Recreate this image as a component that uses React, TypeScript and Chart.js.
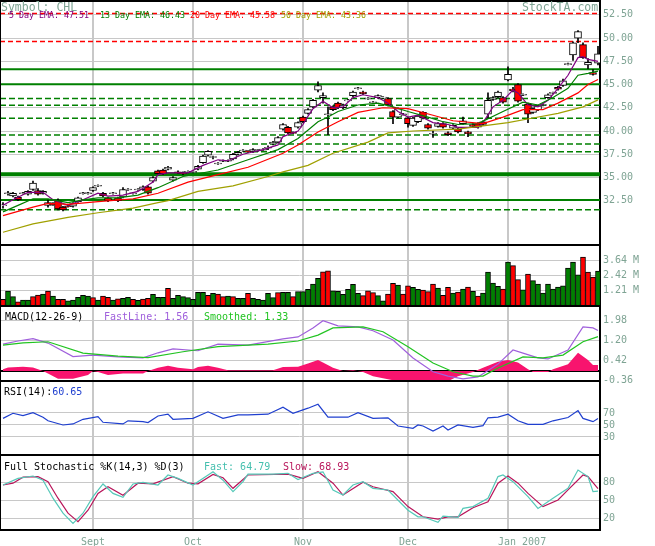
import React, { useEffect, useRef, useState } from 'react';
import { Chart, registerables } from 'chart.js';
Chart.register(...registerables);

const MONO = '"DejaVu Sans Mono", monospace';
const LABEL = '#7fa494';

// x = trading-day index (0 = 2006-08-08 ... 119 = 2007-01-30)
const X_MIN = -0.6;
const X_MAX = 119.4;
const monthTicks = [18, 38, 60, 81, 101];
const monthLabels = ['Sept', 'Oct', 'Nov', 'Dec', 'Jan 2007'];

const opens = [31.95, 33.25, 33.0, 32.9, 33.25, 33.2, 33.7, 33.6, 33.3, 32.0, 32.2, 32.5, 31.8, 31.95, 31.9, 32.4, 33.25, 33.25, 33.6, 34.05, 33.3, 32.8, 33.25, 32.8, 32.9, 33.65, 33.25, 33.65, 33.7, 34.0, 34.6, 35.7, 35.8, 35.9, 34.7, 35.6, 35.5, 35.55, 35.55, 35.9, 36.6, 37.4, 37.15, 36.45, 36.75, 36.75, 37.0, 37.5, 37.85, 37.85, 37.8, 37.85, 37.95, 38.15, 38.6, 38.8, 40.2, 40.4, 39.85, 40.4, 41.5, 41.9, 42.6, 44.4, 43.6, 41.75, 42.6, 43.0, 42.5, 43.25, 43.8, 44.55, 44.2, 43.45, 43.05, 43.6, 43.55, 43.5, 42.1, 41.5, 41.75, 41.4, 40.6, 41.0, 42.0, 40.7, 39.65, 40.5, 40.8, 39.8, 40.3, 40.2, 40.8, 39.9, 40.7, 40.8, 41.0, 41.8, 43.4, 43.7, 43.6, 45.5, 44.5, 45.0, 43.85, 42.9, 42.0, 42.3, 42.75, 43.6, 44.05, 44.7, 44.9, 47.15, 48.2, 50.0, 49.3, 47.1, 46.3, 47.3];
const highs = [32.3, 33.5, 33.4, 33.0, 33.4, 33.6, 34.6, 33.8, 33.6, 32.6, 32.3, 32.7, 31.9, 32.0, 32.3, 32.9, 33.4, 33.4, 34.0, 34.2, 33.4, 32.9, 33.4, 32.9, 33.9, 33.8, 33.4, 33.8, 34.1, 34.1, 35.1, 35.8, 35.9, 36.2, 35.1, 35.7, 35.6, 35.7, 35.7, 36.3, 37.4, 37.9, 37.3, 36.6, 36.9, 36.9, 37.6, 37.8, 38.0, 37.9, 38.1, 38.0, 38.1, 38.4, 38.9, 39.4, 40.8, 40.5, 39.9, 41.0, 41.6, 42.4, 43.4, 45.3, 44.1, 42.6, 42.7, 43.1, 42.9, 43.4, 44.3, 44.7, 44.3, 43.6, 43.2, 43.9, 43.7, 43.6, 42.2, 42.5, 41.9, 41.5, 41.5, 41.7, 42.1, 40.8, 40.0, 40.9, 40.9, 39.9, 40.7, 40.3, 41.5, 40.0, 40.8, 40.9, 41.1, 44.1, 43.7, 44.3, 43.7, 46.9, 44.7, 45.1, 44.0, 43.0, 42.5, 42.8, 42.9, 44.0, 44.2, 44.8, 45.6, 47.3, 49.6, 50.8, 49.5, 47.8, 46.6, 49.1];
const lows = [31.7, 33.1, 32.9, 32.5, 33.2, 33.1, 33.6, 33.1, 33.2, 31.8, 32.0, 31.5, 31.4, 31.8, 31.8, 32.3, 33.2, 33.2, 33.5, 34.0, 32.9, 32.4, 33.2, 32.4, 32.8, 33.6, 33.2, 33.6, 33.6, 33.2, 34.5, 35.3, 35.3, 35.8, 34.6, 35.4, 35.3, 35.5, 35.5, 35.8, 36.5, 37.3, 37.0, 36.4, 36.7, 36.7, 36.9, 37.4, 37.8, 37.7, 37.7, 37.8, 37.9, 38.0, 38.5, 38.7, 40.1, 39.7, 39.7, 40.3, 40.9, 41.8, 42.5, 44.2, 43.0, 39.6, 42.2, 42.4, 42.4, 43.2, 43.7, 44.5, 43.9, 43.4, 43.0, 43.5, 43.5, 42.7, 40.8, 41.4, 41.7, 40.4, 40.5, 40.9, 41.3, 40.2, 39.3, 40.4, 40.3, 39.5, 40.2, 39.8, 40.7, 39.4, 40.4, 40.3, 40.6, 41.4, 43.3, 43.6, 43.0, 45.4, 44.2, 43.1, 43.8, 40.9, 41.9, 42.2, 42.7, 43.5, 44.0, 44.4, 44.8, 47.1, 47.6, 49.5, 47.8, 46.7, 46.0, 47.1];
const closes = [32.05, 33.35, 33.3, 32.6, 33.35, 33.5, 34.4, 33.2, 33.5, 32.3, 32.05, 31.6, 31.5, 31.85, 32.2, 32.8, 33.35, 33.35, 33.9, 34.15, 33.0, 32.5, 33.35, 32.5, 33.7, 33.75, 33.35, 33.75, 34.0, 33.3, 35.0, 35.4, 35.4, 36.1, 35.0, 35.5, 35.4, 35.65, 35.65, 36.2, 37.3, 37.8, 37.25, 36.55, 36.85, 36.85, 37.5, 37.7, 37.95, 37.75, 38.0, 37.95, 38.05, 38.25, 38.8, 39.3, 40.7, 39.8, 39.75, 40.9, 41.0, 42.3, 43.3, 44.9, 43.8, 41.85, 42.3, 42.5, 42.8, 43.35, 44.2, 44.65, 44.0, 43.55, 43.15, 43.8, 43.65, 42.8, 41.5, 42.4, 41.85, 40.8, 41.4, 41.6, 41.4, 40.3, 39.75, 40.8, 40.4, 39.6, 40.6, 39.9, 41.1, 39.7, 40.5, 40.4, 40.7, 43.3, 43.6, 44.2, 43.1, 46.1, 44.35, 43.2, 43.95, 41.8, 42.4, 42.7, 42.85, 43.9, 44.15, 44.5, 45.4, 47.25, 49.5, 50.7, 47.9, 47.4, 46.1, 48.3];

// volume in millions, G = up day, R = down day
const volumes = [0.51, 1.18, 0.73, 0.32, 0.46, 0.46, 0.73, 0.86, 0.94, 1.18, 0.78, 0.51, 0.51, 0.40, 0.46, 0.67, 0.83, 0.78, 0.65, 0.46, 0.78, 0.67, 0.46, 0.56, 0.59, 0.67, 0.51, 0.43, 0.54, 0.59, 0.91, 0.67, 0.67, 1.40, 0.59, 0.83, 0.73, 0.65, 0.51, 1.08, 1.08, 0.83, 1.00, 0.94, 0.73, 0.78, 0.73, 0.59, 0.59, 1.00, 0.59, 0.51, 0.46, 1.00, 0.65, 1.05, 1.08, 1.08, 0.73, 1.13, 1.13, 1.32, 1.75, 2.21, 2.74, 2.82, 1.21, 1.16, 0.91, 1.32, 1.72, 1.00, 0.81, 1.21, 1.05, 0.81, 0.40, 0.94, 1.80, 1.67, 0.94, 1.61, 1.48, 1.32, 1.26, 1.13, 1.75, 1.43, 0.83, 1.48, 1.02, 1.10, 1.34, 1.51, 1.16, 0.78, 1.02, 2.72, 1.83, 1.56, 1.34, 3.52, 3.23, 2.10, 1.29, 2.55, 2.02, 1.75, 1.02, 1.75, 1.34, 1.51, 1.61, 3.04, 3.52, 2.50, 3.93, 2.72, 2.31, 2.80];
const volumeDirection = ('RGGRGGRRGR' + 'GRRGGGGGRG' + 'RRGRGGRGRR' + 'GGGRGGGGGG' + 'GRGRRGRGGR' + 'GGGGGRGGRG' + 'GGGGRRGGGG' + 'GGRRRGGRRG' + 'RRGGRRRGRR' + 'GRGRGRGGGG' + 'RGRRGRGGGG' + 'GGGGGGRRRG').split('');

const volumeTicks = [1.21, 2.42, 3.64];
const priceTicks = [32.5, 35, 37.5, 40, 42.5, 45, 47.5, 50, 52.5];
const macdTicks = [-0.36, 0, 0.42, 1.2, 1.98];
const rsiTicks = [30, 50, 70];
const stochTicks = [20, 50, 80];

const redDashedLevels = [52.64, 49.62];
const greenSolidLevels = [46.65, 45.04, 32.57];
const greenThickLevels = [35.34];
const greenDashedLevels = [43.49, 42.77, 41.37, 39.58, 38.61, 37.78, 31.53];

const ema5 = [[0, 32.0], [2, 32.6], [5, 33.4], [8, 33.4], [10, 32.6], [13, 32.0], [16, 32.6], [19, 33.3], [21, 33.0], [24, 33.1], [27, 33.5], [30, 34.5], [31, 35.3], [33, 35.5], [37, 35.5], [40, 36.3], [43, 36.9], [45, 36.8], [48, 37.5], [52, 38.0], [55, 38.5], [56, 39.4], [59, 40.0], [60, 40.7], [61, 41.6], [62, 42.4], [64, 43.2], [66, 42.5], [68, 42.6], [70, 43.6], [72, 43.9], [75, 43.6], [77, 43.0], [79, 42.1], [81, 41.5], [83, 41.7], [86, 40.9], [89, 40.7], [91, 40.4], [95, 40.4], [96, 40.9], [98, 42.6], [100, 43.3], [102, 44.4], [103, 44.1], [105, 42.8], [107, 42.6], [109, 43.3], [111, 44.6], [113, 46.0], [115, 47.9], [116, 48.0], [117, 47.7], [119, 47.5]];
const ema13 = [[0, 31.3], [3, 32.0], [6, 32.7], [9, 32.7], [13, 32.3], [16, 32.6], [19, 32.8], [23, 32.8], [27, 33.1], [31, 33.9], [36, 35.1], [43, 35.8], [49, 36.9], [55, 38.0], [59, 39.2], [63, 41.0], [65, 41.5], [67, 42.1], [71, 42.8], [75, 43.0], [78, 42.6], [81, 42.1], [85, 41.5], [88, 41.0], [91, 40.7], [95, 40.8], [100, 42.1], [104, 43.1], [107, 42.8], [110, 43.6], [113, 44.6], [115, 46.0], [117, 46.2], [119, 46.45]];
const ema20 = [[0, 30.9], [6, 31.8], [9, 32.2], [13, 32.1], [19, 32.4], [26, 32.7], [31, 33.3], [37, 34.5], [43, 35.3], [49, 36.1], [56, 37.6], [59, 38.5], [63, 39.9], [67, 41.0], [71, 42.0], [76, 42.5], [81, 42.4], [86, 41.7], [90, 41.1], [96, 40.8], [100, 41.5], [104, 42.3], [108, 42.3], [111, 43.0], [115, 44.1], [117, 45.0], [119, 45.55]];
const ema50 = [[0, 29.1], [6, 30.0], [13, 30.7], [19, 31.2], [26, 31.7], [31, 32.3], [33, 32.5], [39, 33.5], [46, 34.1], [53, 35.1], [56, 35.6], [61, 36.3], [66, 37.6], [73, 38.8], [77, 39.8], [82, 40.0], [91, 40.2], [101, 40.9], [106, 41.4], [111, 41.9], [116, 42.6], [119, 43.35]];

const macdFast = [[0, 1.05], [3, 1.17], [6, 1.26], [9, 1.09], [14, 0.56], [18, 0.62], [23, 0.55], [28, 0.51], [31, 0.71], [34, 0.86], [39, 0.79], [43, 1.05], [49, 1.01], [56, 1.25], [59, 1.33], [62, 1.68], [64, 1.96], [67, 1.76], [71, 1.72], [74, 1.57], [78, 1.21], [82, 0.51], [86, -0.03], [89, -0.2], [92, -0.31], [95, -0.23], [99, 0.27], [102, 0.82], [104, 0.7], [107, 0.51], [109, 0.47], [113, 0.82], [116, 1.72], [118, 1.68], [119, 1.58]];
const macdSmoothed = [[0, 1.01], [4, 1.1], [9, 1.14], [16, 0.7], [23, 0.58], [29, 0.52], [36, 0.75], [43, 0.95], [53, 1.05], [59, 1.17], [63, 1.4], [66, 1.68], [72, 1.72], [76, 1.53], [81, 0.95], [86, 0.31], [90, -0.03], [94, -0.2], [96, -0.2], [99, 0.12], [104, 0.55], [108, 0.51], [112, 0.62], [116, 1.14], [119, 1.34]];
const macdHist = [[0, 0.07], [1, 0.14], [4, 0.17], [6, 0.14], [8, 0], [9, -0.1], [11, -0.3], [14, -0.3], [17, -0.16], [18, 0], [19, -0.04], [21, -0.16], [24, -0.1], [28, -0.1], [29, 0], [31, 0.13], [33, 0.2], [35, 0.13], [38, 0.07], [39, 0.16], [41, 0.2], [43, 0.13], [45, 0.03], [54, 0.03], [56, 0.16], [59, 0.17], [61, 0.29], [63, 0.43], [64, 0.33], [66, 0.13], [68, 0], [70, 0.03], [72, -0.04], [74, -0.2], [78, -0.36], [81, -0.47], [86, -0.47], [89, -0.4], [91, -0.2], [94, -0.04], [96, 0.13], [99, 0.36], [101, 0.43], [103, 0.33], [105, 0.07], [106, -0.04], [109, -0.04], [110, 0.07], [113, 0.26], [115, 0.71], [117, 0.43], [118, 0.23], [119, 0.23]];

const rsi = [[0, 61], [2, 69.5], [4, 65.5], [6, 70.5], [8, 63], [9, 57], [12, 50], [14, 51.7], [16, 59.5], [19, 64], [20, 54.5], [24, 51.7], [25, 57], [28, 55.5], [29, 54], [31, 65], [33, 68], [34, 59.5], [38, 61], [41, 72], [44, 61], [47, 66.7], [49, 66.7], [53, 68], [56, 79.5], [58, 69.5], [61, 78], [63, 84.5], [65, 63], [69, 63], [71, 70.5], [74, 61], [77, 62], [79, 48.3], [82, 44.5], [83, 50], [84, 48.3], [86, 40], [88, 48.3], [89, 41.7], [91, 50], [94, 46], [96, 49], [97, 62], [99, 63], [101, 68], [103, 57], [105, 51], [108, 51], [110, 57], [113, 62.5], [115, 74], [116, 61], [118, 55.5], [119, 60.65]];

const stochFast = [[0, 75], [3, 86], [6, 90], [8, 83], [10, 53], [12, 28], [14, 11], [16, 28], [18, 55.5], [20, 76.7], [22, 61], [24, 54.5], [26, 76.7], [28, 79.5], [31, 75], [33, 91.7], [35, 86], [38, 75], [42, 97], [44, 83], [46, 64], [48, 80.5], [49, 93], [54, 93], [57, 94.5], [59, 84], [62, 94.5], [64, 97], [66, 66.7], [68, 58.3], [70, 75], [72, 80.5], [74, 69.5], [77, 66.7], [81, 33], [83, 22], [84, 22], [87, 12.8], [88, 23], [91, 21], [92, 36], [94, 39], [97, 53], [99, 89], [100, 91.7], [102, 80.5], [105, 55.5], [107, 36], [110, 53], [113, 69.5], [115, 100], [117, 89], [118, 64], [119, 64.79]];
const stochSlow = [[0, 75], [2, 78], [4, 88], [7, 89], [9, 80.5], [11, 53], [13, 28], [15, 14], [17, 33], [19, 61], [21, 72], [24, 58], [27, 78], [30, 77], [34, 89], [37, 78], [39, 77], [42, 92.7], [44, 87], [46, 69.5], [49, 91.7], [57, 93], [60, 86], [63, 97], [66, 78], [68, 58.3], [72, 79.5], [74, 72], [78, 64], [81, 39], [84, 22], [87, 18], [89, 22], [91, 22], [94, 37], [97, 47], [99, 78], [101, 90], [103, 78], [105, 61], [108, 39], [111, 50], [113, 67], [116, 91.7], [117, 89], [119, 68.93]];

const legendValues = { ema5: '47.51', ema13: '46.43', ema20: '45.58', ema50: '43.36', fast: '1.56', smoothed: '1.33', rsi: '60.65', stochFast: '64.79', stochSlow: '68.93' };

const pts = (arr: number[][]) => arr.map(([x, y]) => ({ x, y }));
const levelLine = (v: number, color: string, width: number, dash: number[]) => ({
  type: 'line', yAxisID: 'y', data: [{ x: X_MIN, y: v }, { x: X_MAX, y: v }],
  borderColor: color, borderWidth: width, borderDash: dash, pointRadius: 0, order: 10, fill: false,
});
const seriesLine = (arr: number[][], axis: string, color: string, width = 1.2, order = 2) => ({
  type: 'line', yAxisID: axis, data: pts(arr), borderColor: color, borderWidth: width,
  pointRadius: 0, tension: 0, fill: false, order,
});

const gridColor = '#c8c8c8';
const yAxis = (weight: number, order: number, min: number, max: number, ticks: number[], fmt: (v: number) => string) => ({
  type: 'linear', position: 'right', stack: 'panels', stackWeight: weight, weight: order,
  min, max, offset: false,
  afterBuildTicks: (s: any) => { s.ticks = ticks.map((v) => ({ value: v })); },
  afterFit: (s: any) => { s.width = 55; s.paddingTop = 0; s.paddingBottom = 0; },
  ticks: { callback: (v: any) => fmt(Number(v)), color: LABEL, font: { family: MONO, size: 10 }, padding: 3, autoSkip: false },
  grid: {
    color: (c: any) => (c.tick && c.tick.value === 0 ? '#000' : gridColor),
    lineWidth: (c: any) => (c.tick && c.tick.value === 0 ? 2 : 1),
    drawTicks: false,
  },
  border: { display: true, color: '#000', width: 2 },
});

const panelBorders = {
  id: 'panelBorders',
  afterDraw(chart: any) {
    const { ctx, chartArea } = chart;
    ctx.save();
    ctx.strokeStyle = '#000';
    ctx.lineWidth = 2;
    ctx.beginPath();
    ctx.moveTo(chartArea.left, chartArea.top + 1);
    ctx.lineTo(chartArea.right, chartArea.top + 1);
    for (const id of ['y', 'yv', 'ym', 'yr', 'ys']) {
      const b = Math.round(chart.scales[id].bottom);
      ctx.moveTo(chartArea.left, b);
      ctx.lineTo(chartArea.right, b);
    }
    ctx.stroke();
    ctx.lineWidth = 1;
    ctx.beginPath();
    ctx.moveTo(chartArea.left + 0.5, chartArea.top);
    ctx.lineTo(chartArea.left + 0.5, chartArea.bottom);
    ctx.stroke();
    ctx.restore();
  },
};

function buildConfig(): any {
  const idx = closes.map((_, i) => i);
  const datasets: any[] = [
    ...redDashedLevels.map((v) => levelLine(v, '#ff0000', 1.5, [5, 3])),
    ...greenSolidLevels.map((v) => levelLine(v, '#008000', 2, [])),
    ...greenThickLevels.map((v) => levelLine(v, '#008000', 4, [])),
    ...greenDashedLevels.map((v) => levelLine(v, '#008000', 1.5, [6, 3])),
    {
      type: 'bar', yAxisID: 'y', grouped: false, order: 8,
      data: idx.map((i) => ({ x: i, y: [lows[i], highs[i]] })),
      backgroundColor: '#000', barThickness: 1, borderWidth: 0,
    },
    {
      type: 'bar', yAxisID: 'y', grouped: false, order: 7,
      data: idx.map((i) => ({ x: i, y: [opens[i], closes[i]] })),
      backgroundColor: idx.map((i) => (closes[i] >= opens[i] ? '#ffffff' : '#ff0000')),
      borderColor: '#000', borderWidth: 1, borderSkipped: false, barThickness: 7,
    },
    seriesLine(ema50, 'y', '#a0a000'),
    seriesLine(ema20, 'y', '#ff0000'),
    seriesLine(ema13, 'y', '#008000'),
    seriesLine(ema5, 'y', '#800080'),
    {
      type: 'bar', yAxisID: 'yv', grouped: false, order: 6,
      data: idx.map((i) => ({ x: i, y: volumes[i] })),
      backgroundColor: volumeDirection.map((d) => (d === 'G' ? '#007f00' : '#ff0000')),
      borderColor: '#000', borderWidth: 1, borderSkipped: false, barThickness: 5,
    },
    {
      type: 'line', yAxisID: 'ym', data: pts(macdHist), borderWidth: 0, borderColor: 'rgba(0,0,0,0)',
      backgroundColor: '#f8146e', fill: 'origin', pointRadius: 0, order: 6,
    },
    seriesLine(macdSmoothed, 'ym', '#22c422'),
    seriesLine(macdFast, 'ym', '#a060dc'),
    seriesLine(rsi, 'yr', '#1f3fcf'),
    seriesLine(stochFast, 'ys', '#55c8b8'),
    seriesLine(stochSlow, 'ys', '#b8155a'),
  ];
  return {
    type: 'line',
    data: { datasets },
    options: {
      animation: false,
      responsive: false,
      devicePixelRatio: 1,
      events: [],
      layout: { padding: 0 },
      plugins: { legend: { display: false }, tooltip: { enabled: false }, title: { display: false } },
      scales: {
        x: {
          type: 'linear', position: 'bottom', min: X_MIN, max: X_MAX, offset: false,
          afterBuildTicks: (s: any) => { s.ticks = monthTicks.map((v) => ({ value: v })); },
          afterFit: (s: any) => { s.height = 16; s.paddingLeft = 0; s.paddingRight = 0; },
          ticks: { display: false },
          grid: { color: gridColor, lineWidth: 2, drawTicks: false, offset: false },
          border: { display: false },
        },
        y: yAxis(245, 1, 27.73, 54.1, priceTicks, (v) => v.toFixed(2)),
        yv: yAxis(60.7, 2, 0, 4.9, volumeTicks, (v) => v.toFixed(2) + ' M'),
        ym: yAxis(75.3, 3, -0.39, 2.547, macdTicks, (v) => (v === 0 ? '' : v.toFixed(2))),
        yr: yAxis(74, 4, 0, 123.3, rsiTicks, (v) => String(v)),
        ys: yAxis(75, 5, 0, 125, stochTicks, (v) => String(v)),
      },
    },
    plugins: [panelBorders],
  };
}

function Txt({ left, cy, size = 10, color = '#000', children }: any) {
  return (
    <span style={{ position: 'absolute', left, top: cy - 7, fontFamily: MONO, fontSize: size, lineHeight: '14px', color, whiteSpace: 'pre' }}>
      {children}
    </span>
  );
}

export default function App() {
  const canvasRef = useRef<HTMLCanvasElement>(null);
  const [xPos, setXPos] = useState<number[]>([]);

  useEffect(() => {
    const chart = new Chart(canvasRef.current as HTMLCanvasElement, buildConfig());
    setXPos(monthTicks.map((t) => chart.scales.x.getPixelForValue(t)));
    return () => chart.destroy();
  }, []);

  return (
    <div style={{ position: 'fixed', left: 0, top: 0, width: 655, height: 546, background: '#fff', overflow: 'hidden' }}>
      <canvas ref={canvasRef} width={655} height={546} style={{ position: 'absolute', left: 0, top: 0 }} />
      <Txt left={1} cy={7} size={11.5} color={LABEL}>Symbol: CHL</Txt>
      <Txt left={522} cy={7} size={11.5} color={LABEL}>StockTA.com</Txt>
      <Txt left={9} cy={15} size={8.3} color="#800080">{'5 Day EMA: ' + legendValues.ema5}</Txt>
      <Txt left={100} cy={15} size={8.3} color="#008000">{'13 Day EMA: ' + legendValues.ema13}</Txt>
      <Txt left={190} cy={15} size={8.3} color="#ff0000">{'20 Day EMA: ' + legendValues.ema20}</Txt>
      <Txt left={281} cy={15} size={8.3} color="#a0a000">{'50 Day EMA: ' + legendValues.ema50}</Txt>
      <Txt left={5} cy={317}>MACD(12-26-9)</Txt>
      <Txt left={104} cy={317} color="#a060dc">{'FastLine: ' + legendValues.fast}</Txt>
      <Txt left={204} cy={317} color="#22c422">{'Smoothed: ' + legendValues.smoothed}</Txt>
      <Txt left={4} cy={392}>RSI(14):<span style={{ color: '#1f3fcf' }}>{legendValues.rsi}</span></Txt>
      <Txt left={4} cy={467}>Full Stochastic %K(14,3) %D(3)</Txt>
      <Txt left={204} cy={467} color="#45bfae">{'Fast: ' + legendValues.stochFast}</Txt>
      <Txt left={283} cy={467} color="#b8155a">{'Slow: ' + legendValues.stochSlow}</Txt>
      {xPos.map((p, k) => (
        <span key={k} style={{
          position: 'absolute', top: 535, left: k === monthLabels.length - 1 ? p - 10 : p,
          transform: k === monthLabels.length - 1 ? 'none' : 'translateX(-50%)',
          fontFamily: MONO, fontSize: 10, lineHeight: '14px', color: LABEL, whiteSpace: 'pre',
        }}>{monthLabels[k]}</span>
      ))}
    </div>
  );
}
